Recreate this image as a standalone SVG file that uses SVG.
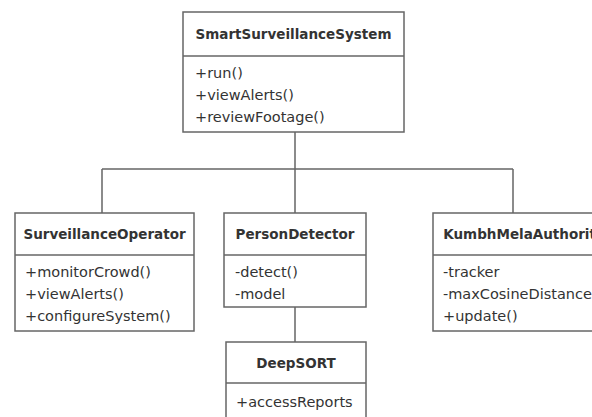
<svg xmlns="http://www.w3.org/2000/svg" width="592" height="417" viewBox="0 0 592 417">
<style>
.box{fill:#fff;stroke:#666;stroke-width:1.5}
.div{stroke:#666;stroke-width:1.5}
.t{font-family:"DejaVu Sans",Verdana,sans-serif;font-size:14.5px;fill:#333}
.title{font-weight:bold;font-size:13.5px;text-anchor:middle}
.conn{fill:none;stroke:#666;stroke-width:1.5}
</style>
<rect width="592" height="417" fill="#fff"/>
<g id="connectors">
<path class="conn" d="M295 132V169M102 169H513M102 169V213M295 169V213M513 169V213M295 307V342"/>
</g>
<g id="SmartSurveillanceSystem">
<rect class="box" x="183" y="12" width="221" height="120"/>
<line class="div" x1="183" y1="56" x2="404" y2="56"/>
<text class="t title" x="293.5" y="39">SmartSurveillanceSystem</text>
<text class="t" x="195" y="78">+run()</text>
<text class="t" x="195" y="100">+viewAlerts()</text>
<text class="t" x="195" y="122">+reviewFootage()</text>
</g>
<g id="SurveillanceOperator">
<rect class="box" x="15" y="213" width="179" height="118"/>
<line class="div" x1="15" y1="255" x2="194" y2="255"/>
<text class="t title" x="104.5" y="239">SurveillanceOperator</text>
<text class="t" x="25" y="277">+monitorCrowd()</text>
<text class="t" x="25" y="299">+viewAlerts()</text>
<text class="t" x="25" y="321">+configureSystem()</text>
</g>
<g id="PersonDetector">
<rect class="box" x="224" y="213" width="142" height="94"/>
<line class="div" x1="224" y1="255" x2="366" y2="255"/>
<text class="t title" x="295" y="239">PersonDetector</text>
<text class="t" x="235" y="277">-detect()</text>
<text class="t" x="235" y="299">-model</text>
</g>
<g id="KumbhMelaAuthority">
<rect class="box" x="433" y="213" width="182" height="118"/>
<line class="div" x1="433" y1="255" x2="615" y2="255"/>
<text class="t title" x="524" y="239">KumbhMelaAuthority</text>
<text class="t" x="443" y="277">-tracker</text>
<text class="t" x="443" y="299">-maxCosineDistance</text>
<text class="t" x="443" y="321">+update()</text>
</g>
<g id="DeepSORT">
<rect class="box" x="226" y="342" width="140" height="90"/>
<line class="div" x1="226" y1="383" x2="366" y2="383"/>
<text class="t title" x="296" y="368">DeepSORT</text>
<text class="t" x="236" y="407">+accessReports</text>
</g>
</svg>
